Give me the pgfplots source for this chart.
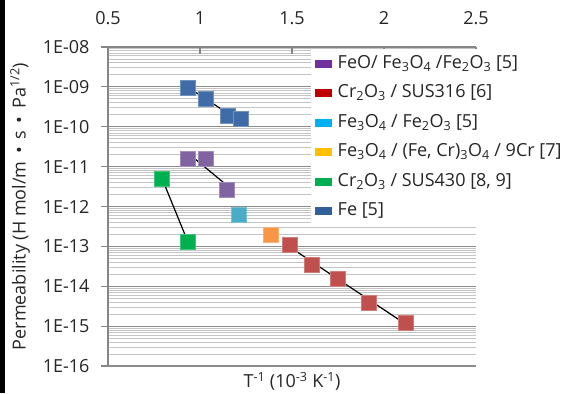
\documentclass[border=0pt]{standalone}
\usepackage{pgfplots}
\pgfplotsset{compat=1.18}
\usepackage{fontspec}
\setmainfont{Open Sans}
\definecolor{cFe}{HTML}{3F6CA6}
\definecolor{cPur}{HTML}{8064A2}
\definecolor{cGrn}{HTML}{00B050}
\definecolor{cCyn}{HTML}{4BACC6}
\definecolor{cOrg}{HTML}{F79646}
\definecolor{cRed}{HTML}{C0504D}
\definecolor{lFe}{HTML}{30609A}
\definecolor{lPur}{HTML}{7030A0}
\definecolor{lRed}{HTML}{C00000}
\definecolor{lCyn}{HTML}{00B0F0}
\definecolor{lOrg}{HTML}{FFC000}
\definecolor{lGrn}{HTML}{00B050}
\definecolor{axgray}{HTML}{868686}
\definecolor{majgray}{HTML}{8C8C8C}
\definecolor{mingray}{HTML}{C4C4C4}
\begin{document}
\begin{tikzpicture}
\useasboundingbox (0,0) rectangle (572pt,393pt);
\fill[black] (0,0) rectangle (4.5pt,393pt);
\begin{axis}[
  at={(108pt,27pt)}, anchor=south west, scale only axis,
  width=368pt, height=319pt,
  xmin=0.5, xmax=2.5, ymode=log, ymin=1e-16, ymax=1e-8,
  axis x line*=top, axis y line*=left,
  axis line style={draw=axgray, line width=1.5pt, -},
  xtick={0.5,1,1.5,2,2.5}, xticklabels={0.5,1,1.5,2,2.5},
  ytick={1e-16,1e-15,1e-14,1e-13,1e-12,1e-11,1e-10,1e-9,1e-8},
  yticklabels={1E-16,1E-15,1E-14,1E-13,1E-12,1E-11,1E-10,1E-09,1E-08},
  minor ytick={2e-16,3e-16,4e-16,5e-16,6e-16,7e-16,8e-16,9e-16,
    2e-15,3e-15,4e-15,5e-15,6e-15,7e-15,8e-15,9e-15,
    2e-14,3e-14,4e-14,5e-14,6e-14,7e-14,8e-14,9e-14,
    2e-13,3e-13,4e-13,5e-13,6e-13,7e-13,8e-13,9e-13,
    2e-12,3e-12,4e-12,5e-12,6e-12,7e-12,8e-12,9e-12,
    2e-11,3e-11,4e-11,5e-11,6e-11,7e-11,8e-11,9e-11,
    2e-10,3e-10,4e-10,5e-10,6e-10,7e-10,8e-10,9e-10,
    2e-9,3e-9,4e-9,5e-9,6e-9,7e-9,8e-9,9e-9},
  ymajorgrids, yminorgrids,
  major grid style={draw=majgray, line width=1.2pt},
  minor grid style={draw=mingray, line width=0.8pt},
  tick align=outside, major tick length=7pt, minor tick length=0pt,
  tick style={draw=axgray, line width=1.2pt},
  xtick style={yshift=-7pt},
  ticklabel style={font=\fontsize{18}{21}\selectfont, text=black!85},
  xticklabel style={yshift=12pt},
  yticklabel style={xshift=-8pt},
  xlabel={T\textsuperscript{-1} (10\textsuperscript{-3} K\textsuperscript{-1})},
  xlabel style={at={(axis description cs:0.5,0)}, anchor=center, yshift=-15pt, font=\fontsize{18}{21}\selectfont, text=black!85},
  ylabel={Permeability (H mol/m \,•\, s \,•\, Pa\textsuperscript{1/2})},
  ylabel style={at={(axis description cs:-0.2391,0.5)}, anchor=center, font=\fontsize{18}{21}\selectfont, text=black!85},
  legend image code/.code={\fill[#1] (0pt,-3.5pt) rectangle (16pt,3.5pt);},
  legend cell align=left,
  legend style={at={(0.552,0.994)}, anchor=north west, draw=none, fill=white,
    font=\fontsize{18}{21}\selectfont, text=black!85, inner xsep=4pt, inner ysep=3pt, row sep=6.5pt,
    nodes={text height=14pt, text depth=5pt},
    /tikz/every odd column/.append style={column sep=4pt}},
  clip=false,
]
% data
\addplot[only marks, mark=square*, mark size=7.5pt, mark options={fill=cPur, draw=cPur!75!white, line width=0.5pt}, forget plot]
  coordinates {(0.933,1.6e-11) (1.029,1.6e-11) (1.148,2.57e-12)};
\addplot[only marks, mark=square*, mark size=7.5pt, mark options={fill=cRed, draw=cRed!75!white, line width=0.5pt}, forget plot]
  coordinates {(1.489,1.07e-13) (1.607,3.4e-14) (1.748,1.58e-14) (1.915,3.9e-15) (2.118,1.23e-15)};
\addplot[only marks, mark=square*, mark size=7.5pt, mark options={fill=cCyn, draw=cCyn!75!white, line width=0.5pt}, forget plot]
  coordinates {(1.21,6.2e-13)};
\addplot[only marks, mark=square*, mark size=7.5pt, mark options={fill=cOrg, draw=cOrg!75!white, line width=0.5pt}, forget plot]
  coordinates {(1.384,2.0e-13)};
\addplot[only marks, mark=square*, mark size=7.5pt, mark options={fill=cGrn, draw=cGrn!75!white, line width=0.5pt}, forget plot]
  coordinates {(0.79,5.0e-12) (0.936,1.27e-13)};
\addplot[only marks, mark=square*, mark size=7.5pt, mark options={fill=cFe, draw=cFe!75!white, line width=0.5pt}, forget plot]
  coordinates {(0.936,9.4e-10) (1.031,5.1e-10) (1.151,1.87e-10) (1.221,1.6e-10)};
% trend lines
\addplot[black, line width=1.2pt, forget plot] coordinates {(0.935,9.77e-10) (1.217,1.37e-10)};
\addplot[black, line width=1.2pt, forget plot] coordinates {(0.935,2.17e-11) (1.152,3.23e-12)};
\addplot[black, line width=1.2pt, forget plot] coordinates {(0.793,5.13e-12) (0.935,1.27e-13)};
\addplot[black, line width=1.2pt, forget plot] coordinates {(1.489,9.55e-14) (2.118,1.12e-15)};
% legend
\addlegendimage{lPur}\addlegendentry{FeO/ Fe\textsubscript{3}O\textsubscript{4} /Fe\textsubscript{2}O\textsubscript{3} [5]}
\addlegendimage{lRed}\addlegendentry{Cr\textsubscript{2}O\textsubscript{3} / SUS316 [6]}
\addlegendimage{lCyn}\addlegendentry{Fe\textsubscript{3}O\textsubscript{4} / Fe\textsubscript{2}O\textsubscript{3} [5]}
\addlegendimage{lOrg}\addlegendentry{Fe\textsubscript{3}O\textsubscript{4} / (Fe, Cr)\textsubscript{3}O\textsubscript{4} / 9Cr [7]}
\addlegendimage{lGrn}\addlegendentry{Cr\textsubscript{2}O\textsubscript{3} / SUS430 [8, 9]}
\addlegendimage{lFe}\addlegendentry{Fe [5]}
\end{axis}
\end{tikzpicture}
\end{document}
